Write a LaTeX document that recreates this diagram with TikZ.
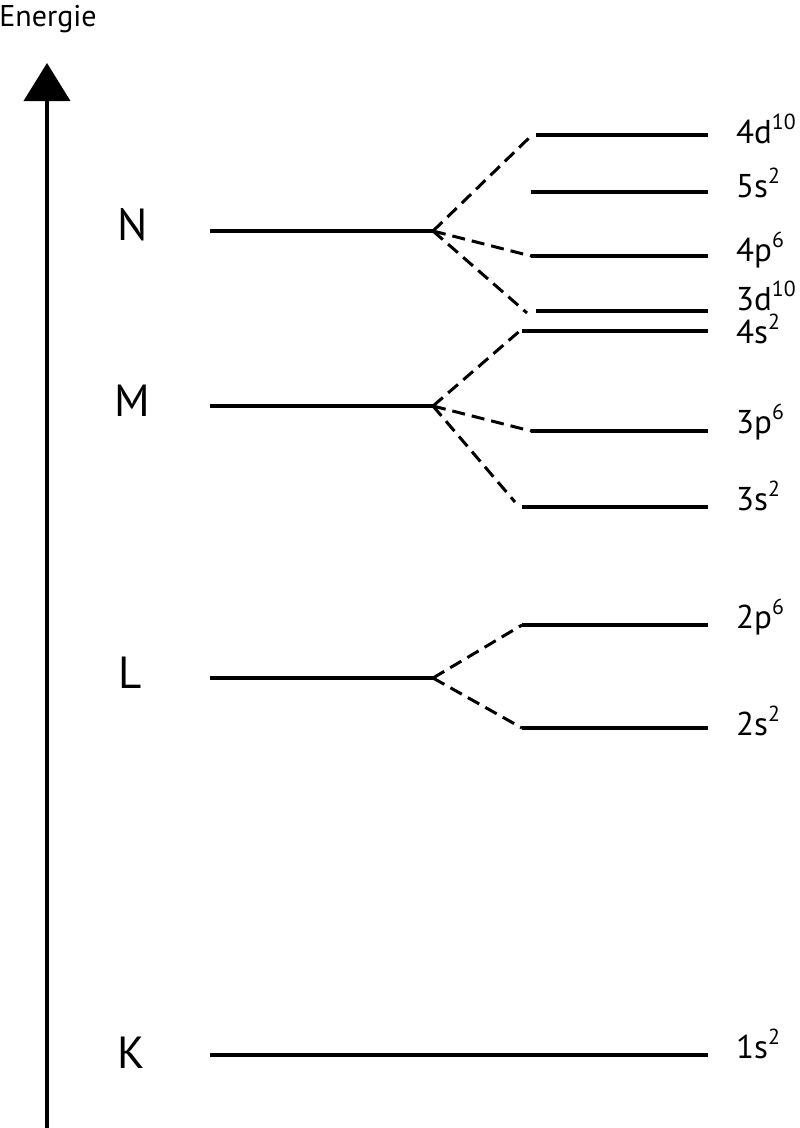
\documentclass[tikz,border=0pt]{standalone}
\usepackage{fontspec}
\setmainfont{PT Sans}
\usetikzlibrary{arrows.meta}
\newcommand{\orbsup}[1]{\raisebox{0.42em}{\scalebox{0.66}{#1}}}
\tikzset{
  level/.style={line width=3.5pt},
  split/.style={line width=3pt, dash pattern=on 13pt off 7pt},
  axis/.style={line width=4pt, -{Triangle[width=46pt,length=38pt]}},
  shell/.style={font=\fontsize{45}{50}\selectfont, anchor=base, inner sep=0pt},
  orb/.style={font=\fontsize{33}{36}\selectfont, anchor=base west, inner sep=0pt},
}
\begin{document}
\begin{tikzpicture}[x=1pt,y=-1pt]
\useasboundingbox (0,0) rectangle (800,1128);
% axis
\coordinate (ax0) at (47,1128);
\coordinate (ax1) at (47,63);
\draw[axis] (ax0) -- (ax1);
\node[font=\fontsize{30}{33}\selectfont, anchor=base, inner sep=0pt] (energie) at (48,26) {Energie};
% main shells
\coordinate (Ka) at (210,1055); \coordinate (Kb) at (708,1055);
\coordinate (La) at (210,678);  \coordinate (Lb) at (433,678);
\coordinate (Ma) at (210,406);  \coordinate (Mb) at (433,406);
\coordinate (Na) at (210,231);  \coordinate (Nb) at (433,231);
\draw[level] (Ka) -- (Kb);
\draw[level] (La) -- (Lb);
\draw[level] (Ma) -- (Mb);
\draw[level] (Na) -- (Nb);
\node[shell] (K) at (131,1068) {K};
\node[shell] (L) at (130,688) {L};
\node[shell] (M) at (132,416) {M};
\node[shell] (N) at (133,240) {N};
% sub levels
\coordinate (d4a) at (536,135); \coordinate (d4b) at (708,135);
\coordinate (s5a) at (531,192); \coordinate (s5b) at (708,192);
\coordinate (p4a) at (531,256); \coordinate (p4b) at (708,256);
\coordinate (d3a) at (536,311); \coordinate (d3b) at (708,311);
\coordinate (s4a) at (522,331); \coordinate (s4b) at (708,331);
\coordinate (p3a) at (531,431); \coordinate (p3b) at (708,431);
\coordinate (s3a) at (522,507); \coordinate (s3b) at (708,507);
\coordinate (p2a) at (522,625); \coordinate (p2b) at (708,625);
\coordinate (s2a) at (522,728); \coordinate (s2b) at (708,728);
\foreach \n in {d4,s5,p4,d3,s4,p3,s3,p2,s2} {\draw[level] (\n a) -- (\n b);}
% labels
\node[orb] (l4d) at (736,143) {4d\orbsup{10}};
\node[orb] (l5s) at (736,197) {5s\orbsup{2}};
\node[orb] (l4p) at (736,261) {4p\orbsup{6}};
\node[orb] (l3d) at (736,310) {3d\orbsup{10}};
\node[orb] (l4s) at (736,343) {4s\orbsup{2}};
\node[orb] (l3p) at (736,433) {3p\orbsup{6}};
\node[orb] (l3s) at (736,510) {3s\orbsup{2}};
\node[orb] (l2p) at (736,628) {2p\orbsup{6}};
\node[orb] (l2s) at (736,735) {2s\orbsup{2}};
\node[orb] (l1s) at (736,1058) {1s\orbsup{2}};
% split connectors
\coordinate (e4d) at (530,137);
\coordinate (e3d) at (527,313);
\draw[split] (Nb) -- (e4d);
\draw[split] (Nb) -- (p4a);
\draw[split] (Nb) -- (e3d);
\coordinate (e4s) at (522,329);
\coordinate (e3s) at (515,502);
\draw[split] (Mb) -- (e4s);
\draw[split] (Mb) -- (p3a);
\draw[split] (Mb) -- (e3s);
\draw[split] (Lb) -- (p2a);
\draw[split] (Lb) -- (s2a);
\end{tikzpicture}
\end{document}
